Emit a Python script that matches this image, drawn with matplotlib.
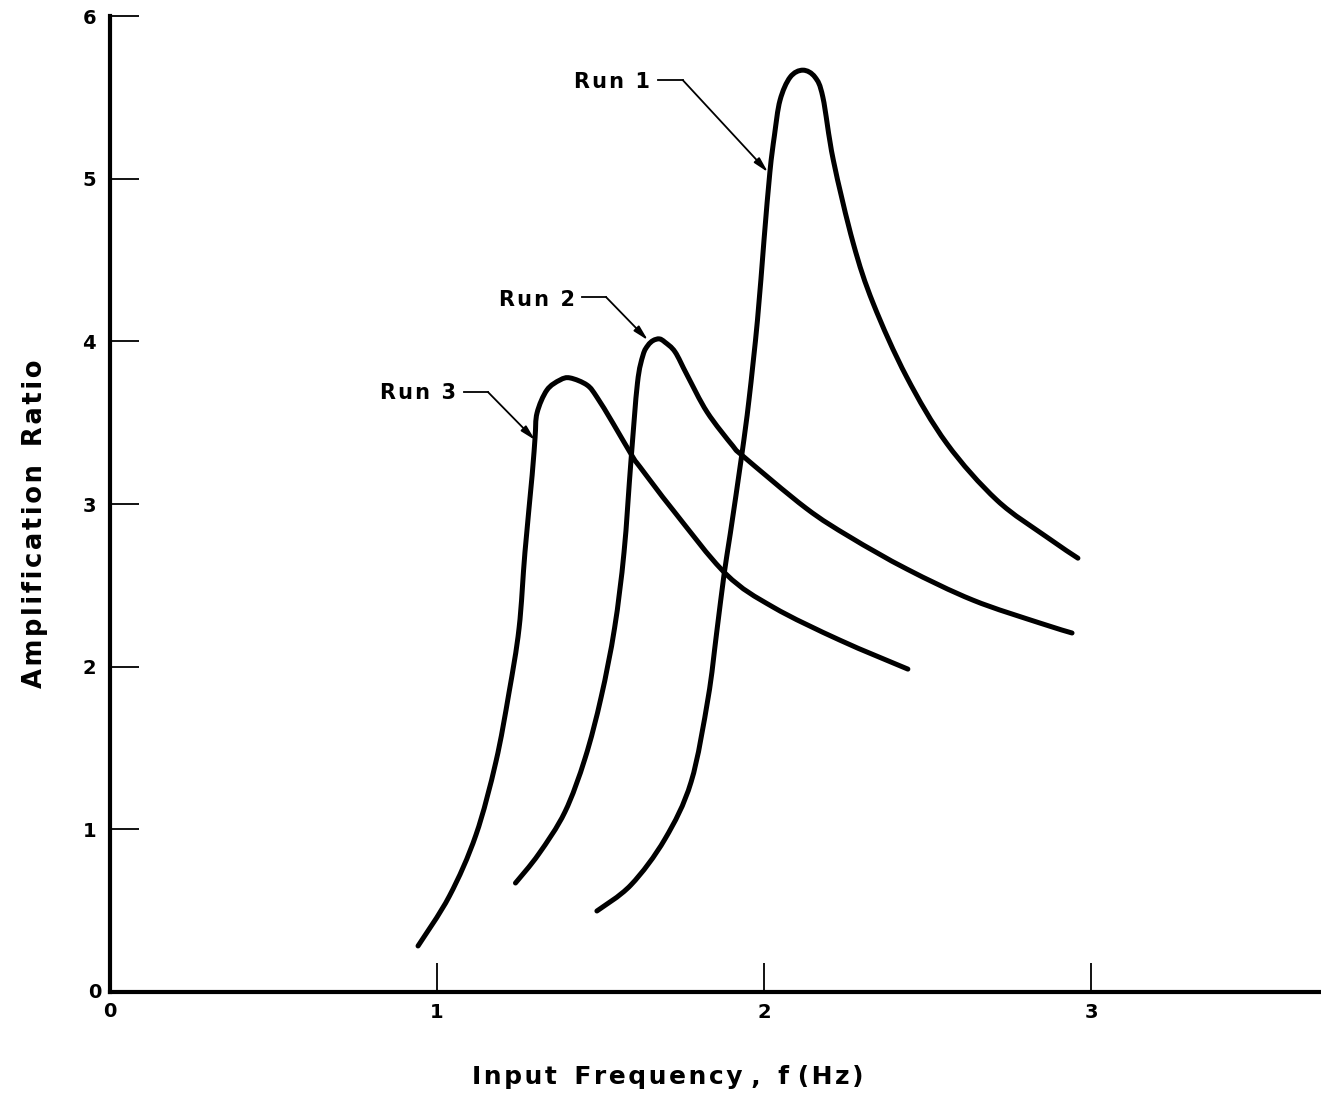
import matplotlib
matplotlib.use("Agg")
import matplotlib.pyplot as plt
from matplotlib.path import Path
from matplotlib.patches import PathPatch

# Frequency response curves, amplification ratio vs input frequency (Hz)
run1_f = [1.489, 1.593, 1.697, 1.777, 1.829, 1.855, 1.878, 1.897, 1.932, 1.954,
          1.980, 2.000, 2.018, 2.032, 2.049, 2.080, 2.119, 2.156, 2.180, 2.212,
          2.273, 2.334, 2.436, 2.559, 2.712, 2.864, 2.960]
run1_a = [0.498, 0.658, 0.940, 1.291, 1.807, 2.205, 2.569, 2.819, 3.301, 3.639,
          4.130, 4.622, 5.040, 5.267, 5.482, 5.624, 5.667, 5.624, 5.501, 5.114,
          4.602, 4.233, 3.782, 3.372, 3.024, 2.798, 2.667]

run2_f = [1.240, 1.311, 1.391, 1.453, 1.502, 1.543, 1.572, 1.593, 1.613, 1.630,
          1.645, 1.661, 1.680, 1.697, 1.728, 1.765, 1.826, 1.905, 1.936, 2.128,
          2.263, 2.437, 2.639, 2.844, 2.942]
run2_a = [0.670, 0.848, 1.106, 1.438, 1.813, 2.237, 2.704, 3.261, 3.743, 3.915,
          3.975, 4.005, 4.015, 3.995, 3.935, 3.792, 3.565, 3.356, 3.294, 2.975,
          2.797, 2.600, 2.409, 2.268, 2.207]

run3_f = [0.942, 1.038, 1.119, 1.180, 1.220, 1.251, 1.269, 1.291, 1.300, 1.306,
          1.336, 1.376, 1.407, 1.459, 1.489, 1.538, 1.599, 1.621, 1.722, 1.884,
          2.028, 2.232, 2.440]
run3_a = [0.283, 0.590, 0.965, 1.414, 1.838, 2.237, 2.704, 3.178, 3.411, 3.560,
          3.700, 3.762, 3.775, 3.731, 3.657, 3.497, 3.288, 3.227, 2.962, 2.569,
          2.366, 2.163, 1.985]

x_ticks = [1, 2, 3]
y_ticks = [1, 2, 3, 4, 5, 6]


def smooth_path(xs, ys):
    """Catmull-Rom curve through the given points, as cubic Bezier segments."""
    pts = list(zip(xs, ys))
    verts = [pts[0]]
    codes = [Path.MOVETO]
    n = len(pts)
    for i in range(n - 1):
        p0 = pts[i - 1] if i > 0 else pts[i]
        p1 = pts[i]
        p2 = pts[i + 1]
        p3 = pts[i + 2] if i + 2 < n else pts[i + 1]
        c1 = (p1[0] + (p2[0] - p0[0]) / 6.0, p1[1] + (p2[1] - p0[1]) / 6.0)
        c2 = (p2[0] - (p3[0] - p1[0]) / 6.0, p2[1] - (p3[1] - p1[1]) / 6.0)
        verts += [c1, c2, p2]
        codes += [Path.CURVE4] * 3
    return Path(verts, codes)


def spaced(s, sep="\u200a"):
    return sep.join(s)


fig = plt.figure(figsize=(13.21, 10.94), dpi=100)
ax = fig.add_axes([110 / 1321, 102 / 1094, 1211 / 1321, 976 / 1094])
ax.set_xlim(0, 1211 / 327)
ax.set_ylim(0, 6)

for fx, fa in ((run1_f, run1_a), (run2_f, run2_a), (run3_f, run3_a)):
    ax.add_patch(PathPatch(smooth_path(fx, fa), fill=False, edgecolor="black",
                           lw=3.6, capstyle="round", joinstyle="round"))

for side in ("top", "right"):
    ax.spines[side].set_visible(False)
for side in ("left", "bottom"):
    ax.spines[side].set_linewidth(3.0)
    ax.spines[side].set_capstyle("projecting")

ax.set_xticks(x_ticks)
ax.set_yticks(y_ticks)
ax.tick_params(direction="in", length=21, width=1.3, color="black")
ax.set_xticklabels([str(v) for v in x_ticks], fontsize=14, fontweight="bold")
ax.set_yticklabels([str(v) for v in y_ticks], fontsize=14, fontweight="bold")
ax.tick_params(axis="x", pad=8)
ax.tick_params(axis="y", pad=10)

# origin labels
ax.text(-0.025, 0.0, "0", ha="right", va="center", fontsize=14, fontweight="bold")
ax.text(0.0, -0.06, "0", ha="center", va="top", fontsize=14, fontweight="bold")

fig.text(668 / 1321, 1 - 1077 / 1094,
         spaced("Input") + "  " + spaced("Frequency") + " ,  " + spaced("f")
         + " " + spaced("(Hz)"), ha="center", va="center",
         fontsize=18, fontweight="bold")
fig.text(35 / 1321, 1 - 524 / 1094,
         spaced("Amplification") + "  " + spaced("Ratio"), rotation=90,
         ha="center", va="center", fontsize=18.5, fontweight="bold")

# Run labels with leader arrows
labels = [
    ("Run 1", (1.651, 5.593), (1.676, 1.752, 5.605), (2.012, 5.040)),
    ("Run 2", (1.422, 4.253), (1.443, 1.517, 4.272), (1.645, 4.007)),
    ("Run 3", (1.058, 3.682), (1.083, 1.156, 3.688), (1.300, 3.393)),
]
for text, tpos, seg, tip in labels:
    ax.text(tpos[0], tpos[1], spaced(text), ha="right", va="center", fontsize=15,
            fontweight="bold")
    ax.plot([seg[0], seg[1]], [seg[2], seg[2]], color="black", lw=1.3)
    ax.annotate("", xy=tip, xytext=(seg[1], seg[2]),
                arrowprops=dict(arrowstyle="-|>,head_length=0.9,head_width=0.22",
                                lw=1.3, color="black", shrinkA=0, shrinkB=0))

fig.savefig("out.png", dpi=100, facecolor="white")
